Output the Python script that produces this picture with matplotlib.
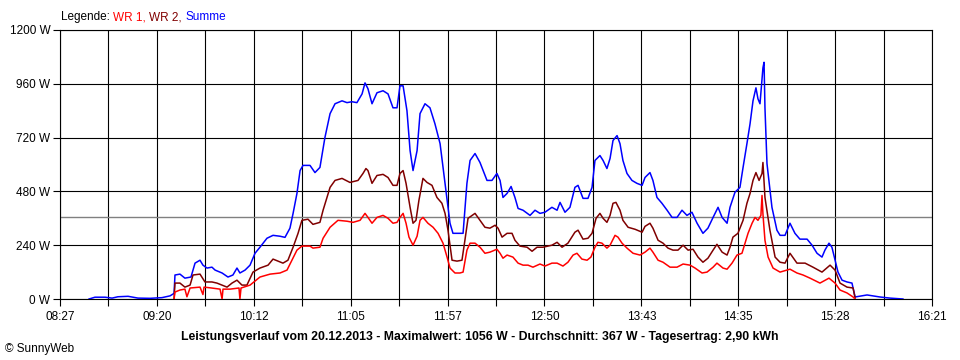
import numpy as np
import matplotlib
matplotlib.use("Agg")
import matplotlib.pyplot as plt

# times are minutes after midnight, power in W

t_summe = [522.8, 526.0, 531.5, 535.3, 538.5, 544.0, 549.4, 555.9, 562.4, 566.8, 569.0, 569.5, 572.2, 574.9,
           578.2, 580.4, 583.1, 584.7, 586.9, 589.6, 591.3, 595.1, 598.3, 601.0, 603.2, 604.8, 607.6, 610.3,
           613.0, 615.7, 619.5, 622.8, 626.6, 629.3, 632.0, 633.7, 635.8, 637.5, 639.1, 642.9, 645.6, 648.3,
           651.0, 653.8, 656.5, 660.3, 663.0, 665.7, 668.4, 671.2, 672.8, 674.4, 676.6, 679.3, 682.6, 685.3,
           688.0, 690.2, 691.8, 693.5, 695.6, 697.3, 698.9, 701.1, 702.7, 705.4, 708.1, 710.8, 713.6, 716.3,
           719.0, 720.6, 726.1, 728.2, 729.9, 732.6, 735.3, 739.1, 741.8, 744.5, 746.2, 747.8, 750.0, 752.2,
           754.3, 756.0, 758.7, 762.5, 765.2, 767.9, 770.6, 774.4, 777.2, 778.8, 781.5, 784.2, 786.9, 788.6,
           791.3, 794.0, 796.2, 797.8, 800.5, 802.2, 804.3, 806.0, 807.6, 809.8, 811.4, 813.0, 815.2, 817.9,
           820.6, 823.4, 825.0, 827.7, 829.3, 831.5, 834.2, 837.0, 839.7, 842.4, 845.1, 847.8, 850.5, 853.3,
           856.5, 859.2, 862.0, 864.7, 866.9, 869.6, 871.2, 873.9, 876.6, 878.3, 880.4, 882.1, 883.7, 885.3,
           886.4, 887.5, 889.1, 889.7, 890.2, 891.3, 894.0, 896.7, 898.4, 901.1, 903.8, 906.5, 909.2, 913.1,
           915.8, 918.5, 921.2, 922.8, 925.0, 926.6, 928.3, 929.9, 932.1, 934.8, 937.5, 939.2, 945.7, 952.7,
           958.2, 965.2]
p_summe = [0, 8, 8, 4, 10, 12, 4, 3, 6, 14, 25, 107, 111, 93,
           98, 160, 173, 151, 138, 142, 129, 116, 98, 107, 138, 116, 129, 151,
           204, 231, 271, 284, 280, 275, 316, 382, 471, 573, 596, 596, 564, 587,
           720, 827, 871, 884, 876, 880, 876, 915, 964, 938, 871, 920, 929, 915,
           853, 853, 951, 951, 840, 662, 573, 662, 827, 871, 853, 782, 693, 516,
           338, 293, 293, 516, 618, 649, 609, 529, 529, 560, 529, 453, 471, 502,
           453, 404, 396, 373, 396, 382, 387, 409, 396, 431, 387, 409, 498, 507,
           449, 449, 498, 618, 640, 618, 582, 627, 707, 729, 693, 618, 560, 529,
           516, 507, 542, 564, 529, 453, 427, 396, 364, 364, 396, 373, 387, 338,
           293, 316, 364, 409, 364, 338, 409, 476, 498, 587, 693, 782, 884, 942,
           893, 871, 1031, 1056, 853, 604, 409, 307, 284, 284, 338, 293, 267, 267,
           240, 204, 187, 218, 249, 231, 173, 120, 84, 76, 71, 9, 18, 9,
           4, 0]

t_wr2 = [569.0, 569.5, 572.2, 574.9, 577.7, 579.3, 583.1, 585.8, 589.6, 592.3, 597.8, 600.5, 603.2, 605.9,
         608.6, 611.9, 615.7, 620.1, 622.8, 628.2, 630.9, 633.7, 636.4, 638.5, 641.8, 644.5, 646.7, 648.3,
         650.0, 653.8, 656.5, 660.3, 664.6, 669.0, 671.7, 673.3, 674.4, 676.6, 679.3, 682.6, 685.3, 688.0,
         690.2, 691.8, 693.5, 695.1, 697.3, 698.9, 700.5, 702.1, 704.3, 706.5, 709.2, 711.9, 714.6, 716.3,
         717.9, 720.1, 722.8, 725.5, 727.1, 728.8, 732.6, 735.3, 738.0, 740.7, 743.5, 745.1, 747.3, 750.0,
         752.7, 754.3, 757.0, 760.9, 763.6, 766.3, 769.5, 774.4, 777.2, 779.9, 783.1, 786.9, 788.6, 791.3,
         794.0, 796.2, 798.4, 800.5, 802.2, 804.3, 806.0, 807.6, 809.2, 811.4, 813.0, 815.8, 819.6, 823.4,
         825.0, 827.7, 829.3, 832.1, 834.8, 837.5, 840.2, 842.9, 845.7, 848.4, 851.1, 853.8, 856.5, 859.2,
         862.0, 864.1, 866.9, 869.6, 871.2, 872.8, 875.5, 878.3, 880.4, 882.1, 883.7, 885.3, 887.0, 888.6,
         889.1, 890.2, 892.9, 895.7, 898.4, 901.1, 903.8, 907.6, 912.0, 916.3, 921.2, 925.6, 928.3,
         931.0, 934.8, 938.1, 939.2]
p_wr2 = [0, 71, 71, 53, 62, 107, 111, 76, 76, 71, 53, 71, 84, 62,
         62, 120, 138, 151, 178, 160, 173, 231, 293, 351, 356, 333, 338, 342,
         396, 498, 529, 538, 520, 529, 560, 582, 573, 516, 551, 556, 542, 507,
         507, 560, 573, 516, 409, 338, 351, 440, 538, 520, 507, 453, 427, 382,
         307, 173, 169, 173, 262, 360, 382, 351, 320, 316, 329, 316, 276, 293,
         293, 262, 236, 231, 213, 231, 231, 240, 253, 231, 249, 298, 307, 267,
         271, 293, 360, 382, 360, 342, 373, 427, 431, 396, 351, 320, 311, 298,
         324, 338, 316, 262, 249, 227, 218, 218, 240, 218, 222, 187, 164, 182,
         218, 244, 209, 196, 231, 276, 293, 351, 427, 471, 529, 564, 529, 560,
         609, 453, 307, 187, 164, 160, 204, 160, 160, 142, 120, 151, 129,
         71, 53, 49, 4]

t_wr1 = [569.0, 569.5, 572.2, 574.9, 576.0, 577.7, 583.1, 584.7, 585.3, 588.5, 594.0, 595.1, 595.6, 599.4,
         604.3, 604.8, 605.4, 610.3, 615.7, 621.2, 626.6, 630.4, 633.1, 635.8, 638.5, 642.9, 644.5, 648.3,
         650.0, 653.8, 658.1, 663.0, 666.3, 670.1, 672.8, 674.4, 676.6, 679.3, 682.6, 685.3, 688.0, 690.2,
         691.8, 693.5, 695.1, 696.7, 698.9, 701.1, 702.7, 704.3, 707.0, 709.8, 712.5, 715.2, 717.4, 719.0,
         721.7, 724.4, 726.1, 728.2, 729.9, 732.6, 735.3, 738.0, 740.7, 744.5, 746.2, 747.8, 750.0, 753.2,
         756.0, 758.7, 761.4, 764.1, 767.9, 770.6, 774.4, 777.2, 780.4, 783.1, 785.9, 788.0, 790.7, 793.5,
         795.6, 797.8, 799.4, 801.6, 804.3, 806.0, 808.7, 810.3, 812.5, 815.2, 818.5, 822.3, 825.0, 827.7,
         829.3, 832.1, 834.8, 838.6, 842.4, 845.7, 849.5, 852.2, 856.0, 858.7, 862.0, 864.1, 867.4, 869.6,
         872.3, 875.0, 877.7, 879.4, 881.0, 883.2, 884.8, 886.4, 888.0, 888.6, 889.1, 890.2, 891.9, 894.6,
         898.4, 903.8, 907.6, 910.9, 914.7, 920.1, 925.0, 928.3, 931.0, 934.8, 938.1, 939.2]
p_wr1 = [0, 31, 40, 44, 10, 49, 53, 20, 53, 50, 44, 0, 44, 44,
         49, 0, 49, 62, 98, 111, 116, 129, 173, 218, 236, 236, 227, 231,
         271, 320, 351, 347, 342, 351, 382, 364, 338, 364, 373, 360, 338, 342,
         364, 382, 338, 276, 240, 280, 351, 364, 338, 320, 293, 249, 187, 138,
         116, 116, 120, 218, 249, 249, 231, 204, 209, 222, 204, 182, 196, 187,
         160, 151, 151, 142, 156, 147, 160, 160, 147, 164, 196, 204, 178, 173,
         187, 231, 253, 249, 227, 240, 284, 276, 249, 227, 204, 196, 209, 227,
         209, 173, 164, 142, 142, 156, 151, 138, 116, 120, 142, 160, 138, 133,
         160, 196, 204, 249, 293, 338, 364, 351, 373, 462, 380, 262, 187, 138,
         120, 133, 116, 107, 93, 71, 93, 71, 40, 27, 9, 0]

x_start, x_end = 507, 981  # 08:27 .. 16:21
x_labels = ["08:27", "09:20", "10:12", "11:05", "11:57", "12:50", "13:43", "14:35", "15:28", "16:21"]
y_ticks = [0, 240, 480, 720, 960, 1200]
average = 367

legend_names = ["WR 1, ", "WR 2, ", "Summe"]
colors = ["#ff0000", "#800000", "#0000ff"]
title = ("Leistungsverlauf vom 20.12.2013 - Maximalwert: 1056 W - "
         "Durchschnitt: 367 W - Tagesertrag: 2,90 kWh")

plt.rcParams['font.family'] = ['Liberation Sans', 'DejaVu Sans']
plt.rcParams['font.size'] = 8.5

fig = plt.figure(figsize=(9.6, 3.6), dpi=100)
fig.patch.set_facecolor('white')
ax = fig.add_axes([60 / 960, 61 / 360, 872 / 960, 269 / 360])

major_x = np.linspace(x_start, x_end, len(x_labels))
minor_x = (major_x[:-1] + major_x[1:]) / 2
ax.set_xticks(major_x)
ax.set_xticklabels(x_labels)
ax.set_xticks(minor_x, minor=True)
ax.set_yticks(y_ticks)
ax.set_yticklabels([f"{v} W" for v in y_ticks])
ax.set_xlim(x_start, x_end)
ax.set_ylim(0, 1200)

ax.tick_params(axis='both', which='both', direction='out', length=5, width=0.8,
               color='black', labelsize=8.5)
ax.tick_params(axis='x', pad=4)
ax.tick_params(axis='y', pad=2)
ax.grid(True, which='both', color='black', lw=0.8)
ax.set_axisbelow(True)
for s in ax.spines.values():
    s.set_color('black')
    s.set_linewidth(0.8)

ax.axhline(average, color='#808080', lw=1.0, zorder=2)

ax.plot(t_summe, p_summe, color=colors[2], lw=1.1, zorder=3)
ax.plot(t_wr2, p_wr2, color=colors[1], lw=1.1, zorder=4)
ax.plot(t_wr1, p_wr1, color=colors[0], lw=1.1, zorder=5)

# legend line on top
prev = fig.text(61 / 960, 1 - 17 / 360, "Legende: ", ha='left', va='center', color='black', fontsize=8.5)
for name, col in zip(legend_names, colors):
    prev = ax.annotate(name, xy=(1, 0), xycoords=prev, ha='left', va='bottom',
                       color=col, fontsize=8.5)

fig.text(0.5, 1 - 337 / 360, title, ha='center', va='center', fontsize=8.8, fontweight='bold')
fig.text(5 / 960, 1 - 349 / 360, "© SunnyWeb", ha='left', va='center', fontsize=8.5)

fig.savefig('out.png', dpi=100)
